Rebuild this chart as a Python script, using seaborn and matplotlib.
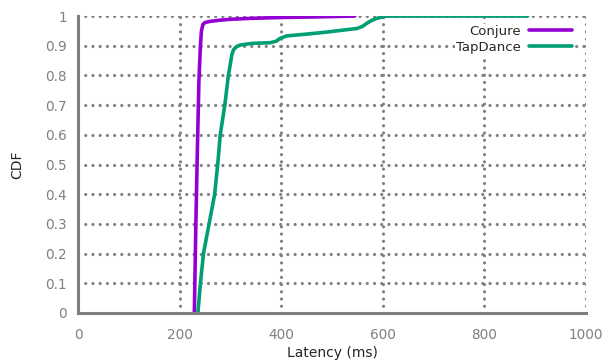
import matplotlib
matplotlib.use("Agg")
import matplotlib.pyplot as plt
import seaborn as sns
import pandas as pd

# Data (latency in ms, cumulative fraction)
conjure_latency = [229, 232, 235, 238, 241, 243, 246, 250, 260, 280, 300, 340, 400, 470, 545]
conjure_cdf = [0.0, 0.3, 0.55, 0.78, 0.9, 0.95, 0.972, 0.978, 0.982, 0.986, 0.989, 0.992, 0.995, 0.997, 1.0]

tapdance_latency = [236, 241, 247, 258, 269, 275, 280, 289, 296, 300, 303, 306, 312, 319, 330, 345,
                    378, 390, 398, 411, 450, 490, 549, 560, 568, 578, 588, 600, 608, 885]
tapdance_cdf = [0.0, 0.1, 0.2, 0.3, 0.4, 0.5, 0.6, 0.7, 0.8, 0.84, 0.87, 0.886, 0.897, 0.902, 0.905, 0.908,
                0.910, 0.915, 0.925, 0.933, 0.939, 0.946, 0.958, 0.965, 0.975, 0.985, 0.992, 0.997, 1.0, 1.0]

series_names = ["Conjure", "TapDance"]
series_colors = ["#9400D3", "#009E73"]

x_ticks = [0, 200, 400, 600, 800, 1000]
y_ticks = [0, 0.1, 0.2, 0.3, 0.4, 0.5, 0.6, 0.7, 0.8, 0.9, 1.0]
y_tick_labels = ["0", "0.1", "0.2", "0.3", "0.4", "0.5", "0.6", "0.7", "0.8", "0.9", "1"]

df = pd.concat([
    pd.DataFrame({"Latency": conjure_latency, "CDF": conjure_cdf, "Series": series_names[0]}),
    pd.DataFrame({"Latency": tapdance_latency, "CDF": tapdance_cdf, "Series": series_names[1]}),
], ignore_index=True)

sns.set_style("white")
plt.rcParams['font.family'] = ['DejaVu Sans']

fig = plt.figure(figsize=(6.07, 3.6), dpi=100)
ax = fig.add_axes([78/607, 1 - 313/360, (586 - 78)/607, (313 - 16)/360])

gray = "#808080"
ax.set_xlim(0, 1000)
ax.set_ylim(0, 1)
ax.set_xticks(x_ticks)
ax.set_yticks(y_ticks)
ax.set_yticklabels(y_tick_labels)

ax.grid(True, color=gray, linewidth=2.3)
ax.set_axisbelow(True)
for gl in ax.get_xgridlines() + ax.get_ygridlines():
    gl.set_linestyle((0, (0.01, 2.25)))
    gl.set_dash_capstyle("round")

sns.lineplot(data=df, x="Latency", y="CDF", hue="Series", palette=series_colors,
             estimator=None, sort=True, linewidth=2.6, ax=ax, legend=True)

for side in ["top", "right"]:
    ax.spines[side].set_visible(False)
for side in ["left", "bottom"]:
    ax.spines[side].set_color(gray)
    ax.spines[side].set_linewidth(2.2)

ax.tick_params(axis="both", direction="in", length=5, width=2, color=gray,
               labelcolor=gray, labelsize=9.8)
ax.tick_params(axis="x", pad=10.5)
ax.tick_params(axis="y", pad=8)

ax.set_xlabel("Latency (ms)", fontsize=10, labelpad=3.5)
ax.set_ylabel("CDF", fontsize=10, labelpad=15)

handles, labels = ax.get_legend_handles_labels()
leg = ax.legend(handles, labels, loc="upper right", bbox_to_anchor=(573.5/607, 1 - 23.5/360),
                bbox_transform=fig.transFigure, frameon=True, markerfirst=False,
                fontsize=9.5, handlelength=3.3, handletextpad=0.6, labelspacing=0.25,
                borderaxespad=0, borderpad=0.1, fancybox=False)
leg.get_frame().set_facecolor("white")
leg.get_frame().set_edgecolor("none")
leg.get_frame().set_alpha(1.0)
for line in leg.get_lines():
    line.set_linewidth(2.6)

fig.savefig("out.png", dpi=100)
